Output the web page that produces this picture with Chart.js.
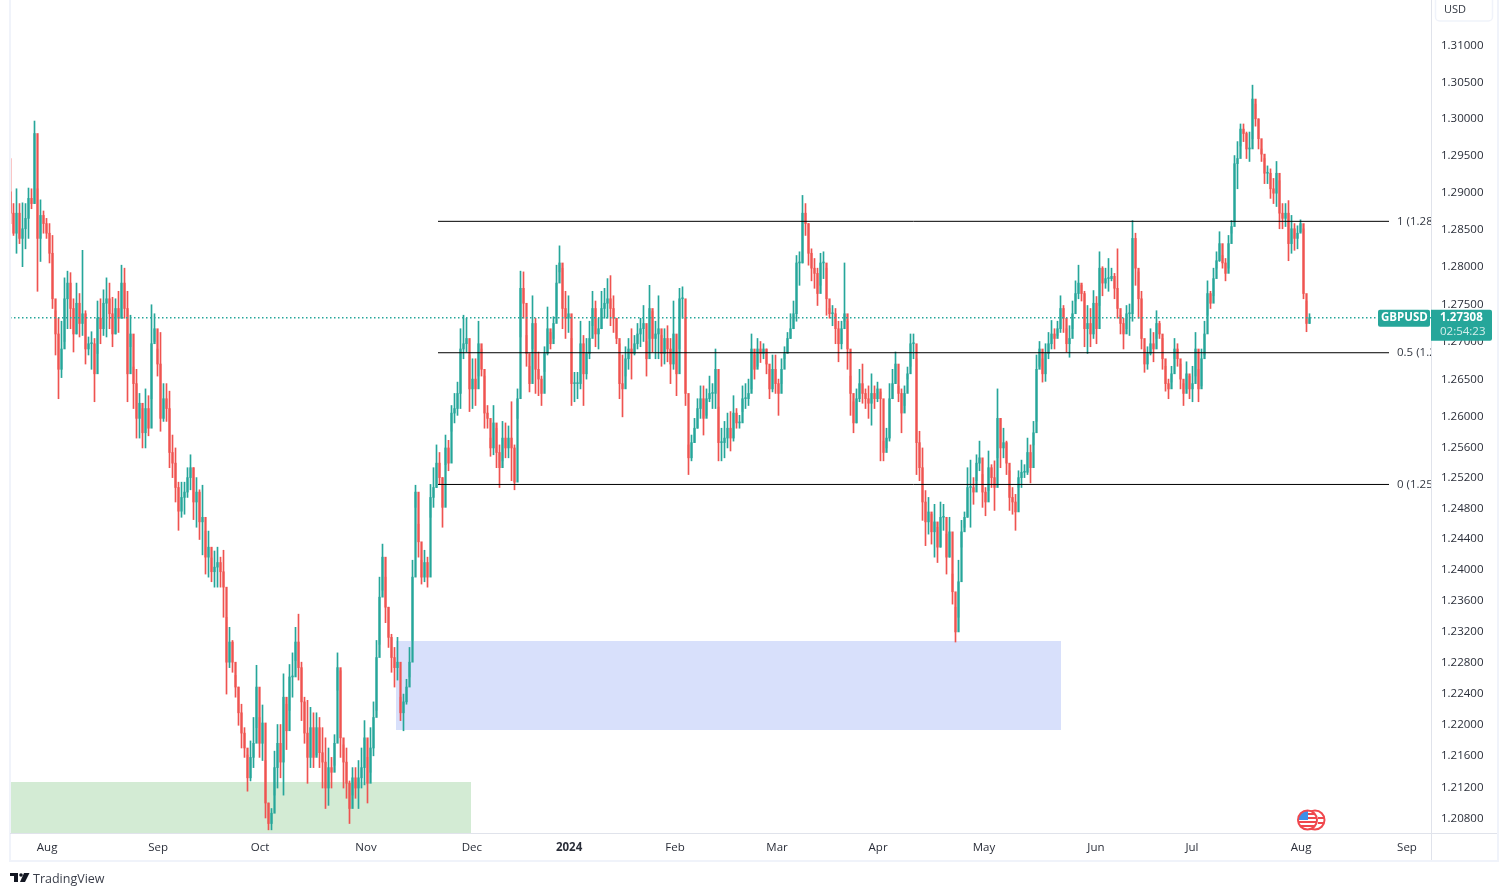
<!DOCTYPE html>
<html>
<head>
<meta charset="utf-8">
<title>GBPUSD</title>
<style>
html, body { margin: 0; padding: 0; background: #fff; }
canvas { display: block; }
</style>
<script src="https://cdn.jsdelivr.net/npm/chart.js@4"></script>
</head>
<body>
<canvas id="myChart" width="1507" height="896"></canvas>
<script>
// candles, one row = ten candles
var highs = [
1.2945,1.2884,1.2904,1.2884,1.2885,1.2884,1.2905,1.2904,1.2996,1.2904,
1.2889,1.2874,1.2864,1.2857,1.2841,1.2740,1.2730,1.2726,1.2784,1.2793,
1.2791,1.2756,1.2777,1.2763,1.2821,1.2740,1.2705,1.2712,1.2703,1.2753,
1.2756,1.2768,1.2784,1.2777,1.2758,1.2756,1.2766,1.2801,1.2797,1.2766,
1.2734,1.2665,1.2662,1.2630,1.2610,1.2636,1.2627,1.2748,1.2736,1.2689,
1.2711,1.2643,1.2643,1.2633,1.2575,1.2558,1.2513,1.2513,1.2513,1.2532,
1.2549,1.2532,1.2519,1.2503,1.2509,1.2449,1.2449,1.2414,1.2423,1.2428,
1.2415,1.2424,1.2337,1.2324,1.2307,1.2262,1.2247,1.2225,1.2195,1.2160,
1.2178,1.2208,1.2275,1.2208,1.2224,1.2153,1.2099,1.2092,1.2165,1.2199,
1.2199,1.2264,1.2225,1.2276,1.2291,1.2324,1.2341,1.2279,1.2234,1.2230,
1.2221,1.2214,1.2214,1.2208,1.2195,1.2182,1.2169,1.2157,1.2186,1.2291,
1.2268,1.2173,1.2169,1.2127,1.2144,1.2144,1.2153,1.2169,1.2204,1.2157,
1.2195,1.2228,1.2307,1.2389,1.2432,1.2389,1.2350,1.2315,1.2298,1.2311,
1.2234,1.2238,1.2257,1.2298,1.2411,1.2509,1.2458,1.2411,1.2424,1.2415,
1.2510,1.2532,1.2562,1.2552,1.2519,1.2575,1.2568,1.2614,1.2630,1.2645,
1.2716,1.2734,1.2730,1.2681,1.2676,1.2676,1.2726,1.2689,1.2653,1.2614,
1.2571,1.2614,1.2584,1.2562,1.2593,1.2591,1.2587,1.2619,1.2562,1.2636,
1.2793,1.2792,1.2707,1.2666,1.2760,1.2730,1.2685,1.2653,1.2692,1.2745,
1.2711,1.2732,1.2801,1.2827,1.2797,1.2766,1.2760,1.2703,1.2658,1.2658,
1.2726,1.2707,1.2703,1.2726,1.2766,1.2753,1.2730,1.2766,1.2770,1.2783,
1.2787,1.2760,1.2730,1.2696,1.2681,1.2692,1.2703,1.2716,1.2707,1.2723,
1.2730,1.2747,1.2699,1.2774,1.2739,1.2726,1.2760,1.2707,1.2716,1.2720,
1.2703,1.2753,1.2685,1.2770,1.2772,1.2730,1.2562,1.2575,1.2597,1.2623,
1.2640,1.2640,1.2636,1.2653,1.2643,1.2689,1.2612,1.2584,1.2593,1.2604,
1.2606,1.2627,1.2610,1.2601,1.2640,1.2643,1.2649,1.2709,1.2681,1.2703,
1.2699,1.2696,1.2689,1.2662,1.2681,1.2681,1.2649,1.2676,1.2692,1.2711,
1.2736,1.2753,1.2814,1.2819,1.2895,1.2884,1.2857,1.2823,1.2810,1.2797,
1.2817,1.2819,1.2797,1.2743,1.2747,1.2743,1.2726,1.2726,1.2804,1.2726,
1.2653,1.2619,1.2636,1.2662,1.2669,1.2636,1.2640,1.2656,1.2640,1.2645,
1.2632,1.2567,1.2584,1.2643,1.2662,1.2685,1.2640,1.2636,1.2640,1.2665,
1.2709,1.2709,1.2676,1.2580,1.2558,1.2502,1.2493,1.2471,1.2484,1.2454,
1.2487,1.2484,1.2445,1.2467,1.2393,1.2350,1.2411,1.2463,1.2474,1.2532,
1.2542,1.2519,1.2549,1.2567,1.2523,1.2506,1.2554,1.2536,1.2541,1.2636,
1.2597,1.2584,1.2567,1.2528,1.2506,1.2497,1.2528,1.2542,1.2536,1.2571,
1.2562,1.2593,1.2681,1.2699,1.2676,1.2696,1.2711,1.2727,1.2716,1.2726,
1.2760,1.2747,1.2716,1.2720,1.2753,1.2780,1.2801,1.2774,1.2766,1.2747,
1.2743,1.2767,1.2759,1.2819,1.2799,1.2797,1.2810,1.2797,1.2790,1.2823,
1.2734,1.2730,1.2747,1.2749,1.2861,1.2844,1.2792,1.2766,1.2689,1.2692,
1.2716,1.2711,1.2740,1.2726,1.2703,1.2666,1.2649,1.2666,1.2703,1.2696,
1.2669,1.2643,1.2672,1.2653,1.2666,1.2711,1.2662,1.2689,1.2726,1.2780,
1.2766,1.2797,1.2819,1.2846,1.2814,1.2810,1.2841,1.2861,1.2949,1.2968,
1.2992,1.2992,1.2981,1.2981,1.3045,1.3019,1.2999,1.2958,1.2945,1.2935,
1.2931,1.2918,1.2941,1.2915,1.2884,1.2884,1.2888,1.2868,1.2857,1.2854,
1.2862,1.2850,1.2753,1.2736
];
var lows = [
1.2857,1.2841,1.2817,1.2830,1.2799,1.2823,1.2837,1.2877,1.2884,1.2766,
1.2806,1.2844,1.2837,1.2804,1.2743,1.2681,1.2623,1.2651,1.2699,1.2716,
1.2716,1.2685,1.2709,1.2705,1.2707,1.2669,1.2681,1.2662,1.2619,1.2683,
1.2696,1.2707,1.2705,1.2716,1.2692,1.2709,1.2711,1.2730,1.2730,1.2619,
1.2692,1.2610,1.2571,1.2571,1.2558,1.2558,1.2574,1.2623,1.2699,1.2653,
1.2580,1.2593,1.2593,1.2532,1.2519,1.2487,1.2450,1.2467,1.2471,1.2493,
1.2503,1.2464,1.2454,1.2438,1.2418,1.2393,1.2389,1.2383,1.2376,1.2376,
1.2376,1.2337,1.2238,1.2272,1.2266,1.2234,1.2198,1.2169,1.2157,1.2114,
1.2127,1.2144,1.2195,1.2157,1.2153,1.2080,1.2065,1.2065,1.2109,1.2118,
1.2131,1.2109,1.2167,1.2217,1.2234,1.2281,1.2256,1.2204,1.2175,1.2124,
1.2144,1.2144,1.2160,1.2144,1.2118,1.2092,1.2096,1.2118,1.2147,1.2243,
1.2157,1.2118,1.2105,1.2073,1.2109,1.2105,1.2092,1.2118,1.2122,1.2099,
1.2138,1.2159,1.2217,1.2302,1.2372,1.2330,1.2298,1.2266,1.2247,1.2256,
1.2204,1.2191,1.2225,1.2260,1.2307,1.2480,1.2415,1.2380,1.2383,1.2376,
1.2467,1.2480,1.2506,1.2510,1.2454,1.2536,1.2528,1.2580,1.2591,1.2601,
1.2610,1.2676,1.2685,1.2606,1.2610,1.2614,1.2653,1.2653,1.2584,1.2584,
1.2547,1.2549,1.2532,1.2506,1.2541,1.2545,1.2545,1.2515,1.2503,1.2597,
1.2705,1.2730,1.2666,1.2632,1.2689,1.2630,1.2627,1.2614,1.2659,1.2681,
1.2689,1.2703,1.2734,1.2792,1.2716,1.2703,1.2711,1.2614,1.2619,1.2623,
1.2636,1.2614,1.2649,1.2676,1.2720,1.2692,1.2689,1.2716,1.2730,1.2730,
1.2720,1.2711,1.2696,1.2623,1.2599,1.2653,1.2662,1.2649,1.2681,1.2689,
1.2692,1.2699,1.2653,1.2703,1.2685,1.2676,1.2676,1.2666,1.2669,1.2672,
1.2643,1.2662,1.2627,1.2689,1.2730,1.2614,1.2523,1.2541,1.2565,1.2584,
1.2597,1.2575,1.2601,1.2619,1.2610,1.2610,1.2541,1.2541,1.2545,1.2558,
1.2554,1.2567,1.2584,1.2584,1.2606,1.2610,1.2614,1.2636,1.2649,1.2666,
1.2671,1.2676,1.2656,1.2623,1.2632,1.2630,1.2601,1.2643,1.2676,1.2685,
1.2703,1.2716,1.2726,1.2774,1.2804,1.2841,1.2801,1.2780,1.2770,1.2747,
1.2774,1.2783,1.2734,1.2730,1.2720,1.2696,1.2672,1.2689,1.2726,1.2662,
1.2601,1.2578,1.2591,1.2619,1.2617,1.2610,1.2597,1.2588,1.2610,1.2619,
1.2541,1.2541,1.2558,1.2567,1.2623,1.2643,1.2619,1.2578,1.2614,1.2649,
1.2666,1.2676,1.2523,1.2515,1.2463,1.2430,1.2445,1.2432,1.2415,1.2408,
1.2428,1.2450,1.2393,1.2415,1.2354,1.2305,1.2337,1.2428,1.2454,1.2467,
1.2454,1.2484,1.2515,1.2528,1.2480,1.2469,1.2502,1.2506,1.2476,1.2545,
1.2532,1.2545,1.2523,1.2476,1.2471,1.2450,1.2506,1.2506,1.2519,1.2523,
1.2512,1.2562,1.2593,1.2666,1.2645,1.2646,1.2676,1.2689,1.2689,1.2707,
1.2711,1.2711,1.2685,1.2678,1.2716,1.2753,1.2756,1.2753,1.2692,1.2683,
1.2692,1.2703,1.2696,1.2747,1.2760,1.2770,1.2766,1.2780,1.2756,1.2730,
1.2709,1.2689,1.2716,1.2707,1.2726,1.2774,1.2730,1.2689,1.2658,1.2662,
1.2681,1.2672,1.2703,1.2703,1.2662,1.2633,1.2623,1.2645,1.2676,1.2666,
1.2636,1.2614,1.2636,1.2623,1.2619,1.2653,1.2619,1.2640,1.2681,1.2734,
1.2743,1.2760,1.2797,1.2806,1.2797,1.2780,1.2797,1.2844,1.2861,1.2904,
1.2962,1.2968,1.2945,1.2941,1.2972,1.2989,1.2958,1.2941,1.2911,1.2911,
1.2891,1.2884,1.2880,1.2850,1.2850,1.2853,1.2807,1.2817,1.2821,1.2823,
1.2846,1.2756,1.2712,1.2723
];
var closes = [
1.2871,1.2844,1.2871,1.2837,1.2850,1.2864,1.2891,1.2884,1.2979,1.2837,
1.2868,1.2857,1.2844,1.2817,1.2756,1.2709,1.2662,1.2689,1.2756,1.2777,
1.2743,1.2709,1.2750,1.2723,1.2736,1.2689,1.2696,1.2696,1.2656,1.2730,
1.2716,1.2750,1.2756,1.2736,1.2709,1.2743,1.2730,1.2777,1.2743,1.2656,
1.2709,1.2643,1.2597,1.2617,1.2578,1.2610,1.2584,1.2696,1.2716,1.2669,
1.2597,1.2623,1.2610,1.2552,1.2538,1.2506,1.2475,1.2493,1.2500,1.2519,
1.2532,1.2487,1.2500,1.2461,1.2467,1.2415,1.2428,1.2396,1.2402,1.2408,
1.2396,1.2376,1.2279,1.2305,1.2279,1.2247,1.2214,1.2188,1.2169,1.2131,
1.2157,1.2175,1.2247,1.2175,1.2201,1.2099,1.2073,1.2086,1.2144,1.2175,
1.2151,1.2234,1.2191,1.2260,1.2260,1.2305,1.2272,1.2228,1.2188,1.2157,
1.2195,1.2157,1.2195,1.2163,1.2151,1.2118,1.2144,1.2138,1.2175,1.2272,
1.2182,1.2151,1.2124,1.2092,1.2131,1.2118,1.2131,1.2144,1.2182,1.2124,
1.2169,1.2208,1.2285,1.2363,1.2415,1.2350,1.2311,1.2285,1.2272,1.2279,
1.2214,1.2228,1.2247,1.2279,1.2389,1.2500,1.2435,1.2389,1.2408,1.2389,
1.2493,1.2506,1.2538,1.2519,1.2480,1.2558,1.2538,1.2604,1.2610,1.2630,
1.2689,1.2696,1.2703,1.2636,1.2649,1.2636,1.2696,1.2662,1.2604,1.2597,
1.2558,1.2591,1.2552,1.2532,1.2571,1.2558,1.2571,1.2558,1.2513,1.2623,
1.2770,1.2750,1.2683,1.2643,1.2723,1.2662,1.2649,1.2630,1.2683,1.2716,
1.2696,1.2723,1.2777,1.2804,1.2743,1.2730,1.2736,1.2643,1.2643,1.2643,
1.2696,1.2656,1.2683,1.2703,1.2743,1.2709,1.2716,1.2743,1.2750,1.2756,
1.2743,1.2730,1.2703,1.2643,1.2636,1.2676,1.2689,1.2683,1.2696,1.2709,
1.2716,1.2723,1.2676,1.2743,1.2703,1.2709,1.2716,1.2683,1.2703,1.2689,
1.2669,1.2709,1.2656,1.2756,1.2756,1.2630,1.2545,1.2565,1.2584,1.2610,
1.2623,1.2597,1.2623,1.2630,1.2630,1.2662,1.2565,1.2565,1.2571,1.2584,
1.2571,1.2604,1.2591,1.2591,1.2623,1.2623,1.2630,1.2689,1.2662,1.2689,
1.2683,1.2689,1.2669,1.2636,1.2662,1.2643,1.2630,1.2662,1.2683,1.2703,
1.2716,1.2736,1.2804,1.2804,1.2871,1.2857,1.2817,1.2797,1.2790,1.2763,
1.2804,1.2804,1.2756,1.2736,1.2736,1.2716,1.2696,1.2716,1.2736,1.2689,
1.2630,1.2591,1.2623,1.2643,1.2630,1.2623,1.2617,1.2630,1.2623,1.2636,
1.2623,1.2552,1.2571,1.2623,1.2643,1.2669,1.2630,1.2604,1.2630,1.2656,
1.2696,1.2696,1.2565,1.2532,1.2487,1.2461,1.2474,1.2448,1.2461,1.2428,
1.2467,1.2467,1.2415,1.2448,1.2370,1.2318,1.2383,1.2448,1.2467,1.2506,
1.2506,1.2500,1.2538,1.2545,1.2500,1.2487,1.2532,1.2519,1.2506,1.2597,
1.2558,1.2565,1.2538,1.2493,1.2487,1.2474,1.2519,1.2526,1.2526,1.2552,
1.2532,1.2578,1.2662,1.2689,1.2656,1.2683,1.2696,1.2709,1.2703,1.2716,
1.2743,1.2730,1.2696,1.2703,1.2736,1.2763,1.2777,1.2763,1.2716,1.2723,
1.2709,1.2750,1.2716,1.2797,1.2777,1.2783,1.2783,1.2786,1.2770,1.2743,
1.2723,1.2709,1.2736,1.2736,1.2837,1.2797,1.2756,1.2703,1.2669,1.2683,
1.2696,1.2689,1.2723,1.2709,1.2676,1.2643,1.2636,1.2656,1.2689,1.2676,
1.2649,1.2630,1.2656,1.2636,1.2643,1.2689,1.2636,1.2676,1.2709,1.2763,
1.2750,1.2783,1.2807,1.2830,1.2804,1.2790,1.2830,1.2853,1.2938,1.2945,
1.2985,1.2979,1.2958,1.2958,1.3026,1.2999,1.2972,1.2951,1.2925,1.2925,
1.2904,1.2898,1.2925,1.2871,1.2864,1.2871,1.2830,1.2850,1.2837,1.2844,
1.2857,1.2763,1.2723,1.27308
];
var firstOpen = 1.2900;

var priceTicks = [1.31, 1.305, 1.30, 1.295, 1.29, 1.285, 1.28, 1.275, 1.27, 1.265, 1.26, 1.256, 1.252, 1.248, 1.244, 1.24, 1.236, 1.232, 1.228, 1.224, 1.22, 1.216, 1.212, 1.208];
var monthLabels = ["Aug", "Sep", "Oct", "Nov", "Dec", "2024", "Feb", "Mar", "Apr", "May", "Jun", "Jul", "Aug", "Sep"];
var monthCandles = [12.2, 49.2, 83.2, 118.5, 153.8, 186.2, 221.5, 255.5, 289.2, 324.5, 361.8, 393.8, 430.2, 465.5];

var fibLevels = [1.2860, 1.2684, 1.2510];
var fibNames = ["1 (1.28604)", "0.5 (1.26837)", "0 (1.25099)"];
var fibRange = [142.5, 459.5];

var lastPrice = 1.27308;
var priceMin = 1.2061, priceMax = 1.3162;
var candleMin = -0.1667, candleMax = 473.5;

var greenZone = { from: candleMin, to: 153.5, top: 1.21256, bottom: priceMin };
var blueZone = { from: 128.5, to: 350.2, top: 1.23063, bottom: 1.21919 };

var UP = "#26a69a", DOWN = "#ef5350";

var opens = closes.map(function (c, i) { return i == 0 ? firstOpen : closes[i - 1]; });
var candleColors = closes.map(function (c, i) { return c >= opens[i] ? UP : DOWN; });

function zone(z, color) {
    return {
        type: "line",
        data: [{ x: z.from, y: z.top }, { x: z.to, y: z.top }],
        borderWidth: 0,
        pointRadius: 0,
        backgroundColor: color,
        fill: { value: z.bottom },
        order: 10
    };
}

function hline(y, from, to, color, width, dash) {
    return {
        type: "line",
        data: [{ x: from, y: y }, { x: to, y: y }],
        borderColor: color,
        borderWidth: width,
        borderDash: dash || [],
        pointRadius: 0,
        fill: false,
        order: 2
    };
}

var datasets = [
    zone(greenZone, "#d3ebd4"),
    zone(blueZone, "#d8e0fb"),
    {
        data: closes.map(function (c, i) { return { x: i, y: [lows[i], highs[i]] }; }),
        backgroundColor: candleColors,
        barThickness: 1,
        grouped: false,
        order: 5
    },
    {
        data: closes.map(function (c, i) { return { x: i, y: [opens[i], c] }; }),
        backgroundColor: candleColors,
        barThickness: 1.6,
        minBarLength: 1,
        grouped: false,
        order: 4
    }
];
fibLevels.forEach(function (f) {
    datasets.push(hline(f, fibRange[0], fibRange[1], "#000000", 1));
});
datasets.push(hline(lastPrice, candleMin, candleMax, UP, 1.5, [1.5, 2.5]));

// bits of TradingView chrome around the plot
var chrome = {
    id: "chrome",
    afterDraw: function (chart) {
        var c = chart.ctx, y = chart.scales.y;
        var font = '"Open Sans", sans-serif';
        c.save();

        c.fillStyle = "#f0f3fa";
        c.fillRect(9, 0, 2, 862);
        c.fillRect(1497, 0, 2, 862);
        c.fillRect(9, 860, 1490, 2);
        c.fillStyle = "#e0e3eb";
        c.fillRect(1431, 0, 1, 860);
        c.fillRect(10, 833, 1487, 1);

        // fib names run under the price scale
        c.save();
        c.beginPath();
        c.rect(1390, 0, 41, 860);
        c.clip();
        c.font = "11.5px " + font;
        c.fillStyle = "#333842";
        c.textBaseline = "middle";
        fibLevels.forEach(function (f, i) {
            c.fillText(fibNames[i], 1397, y.getPixelForValue(f));
        });
        c.restore();

        // USD button
        c.fillStyle = "#fff";
        c.strokeStyle = "#f0f3fa";
        c.lineWidth = 1.5;
        c.beginPath();
        c.roundRect(1435.5, -6, 57, 27, 4);
        c.fill();
        c.stroke();
        c.fillStyle = "#333842";
        c.font = "11px " + font;
        c.textBaseline = "middle";
        c.fillText("USD", 1444, 10);

        // last price tags
        var py = y.getPixelForValue(lastPrice);
        c.fillStyle = UP;
        c.beginPath();
        c.roundRect(1378, py - 8, 52, 17, 2);
        c.fill();
        c.beginPath();
        c.roundRect(1431, py - 8, 61, 31, [0, 2, 2, 0]);
        c.fill();
        c.fillStyle = "#fff";
        c.font = "bold 11.5px " + font;
        c.fillText("GBPUSD", 1381, py + 0.5);
        c.fillText("1.27308", 1440, py + 0.5);
        c.fillStyle = "#d4eeeb";
        c.font = "11.5px " + font;
        c.fillText("02:54:23", 1440, py + 14.5);

        // US flag marker
        c.fillStyle = "#fff";
        c.strokeStyle = "#f0484e";
        c.lineWidth = 2;
        c.beginPath();
        c.arc(1315, 820, 9.5, 0, Math.PI * 2);
        c.fill();
        c.stroke();
        c.fillStyle = "#f0484e";
        c.fillRect(1318, 817, 6, 2);
        c.fillRect(1318, 822, 5, 2);
        c.beginPath();
        c.arc(1307.5, 820, 10, 0, Math.PI * 2);
        c.fillStyle = "#fff";
        c.fill();
        c.save();
        c.clip();
        c.fillStyle = "#f0484e";
        c.fillRect(1297, 821, 22, 2);
        c.fillRect(1297, 825, 22, 2);
        c.fillRect(1308, 813, 12, 2);
        c.fillRect(1308, 817, 12, 2);
        c.fillStyle = "#3d8fe8";
        c.fillRect(1299, 811, 9, 9);
        c.restore();
        c.beginPath();
        c.arc(1307.5, 820, 9.5, 0, Math.PI * 2);
        c.stroke();

        // footer logo
        c.fillStyle = "#131722";
        c.fillRect(10, 873, 8, 3);
        c.fillRect(14, 873, 4, 9);
        c.beginPath();
        c.arc(21, 875, 1.8, 0, Math.PI * 2);
        c.fill();
        c.beginPath();
        c.moveTo(24, 873);
        c.lineTo(29.5, 873);
        c.lineTo(25, 882);
        c.lineTo(20, 882);
        c.closePath();
        c.fill();
        c.fillStyle = "#3a3e4a";
        c.font = "12.5px " + font;
        c.textBaseline = "middle";
        c.fillText("TradingView", 33, 879);

        c.restore();
    }
};

new Chart("myChart", {
    type: "bar",
    data: { datasets: datasets },
    plugins: [chrome],
    options: {
        responsive: false,
        animation: false,
        events: [],
        layout: { padding: { left: 10, right: 10, top: 0, bottom: 36 } },
        plugins: { legend: { display: false }, tooltip: { enabled: false }, title: { display: false } },
        scales: {
            x: {
                type: "linear",
                offset: false,
                min: candleMin,
                max: candleMax,
                grid: { display: false, drawTicks: false },
                border: { display: false },
                afterBuildTicks: function (s) {
                    s.ticks = monthCandles.map(function (v) { return { value: v }; });
                },
                afterFit: function (s) { s.height = 27; s.paddingLeft = 0; s.paddingRight = 0; },
                ticks: {
                    autoSkip: false,
                    maxRotation: 0,
                    padding: 8,
                    color: "#2a2e39",
                    font: function (ctx) {
                        return { family: '"Open Sans", sans-serif', size: 11.5, weight: ctx.index == 5 ? "bold" : "normal" };
                    },
                    callback: function (v, i) { return monthLabels[i]; }
                }
            },
            y: {
                type: "logarithmic",
                position: "right",
                min: priceMin,
                max: priceMax,
                grid: { display: false, drawTicks: false },
                border: { display: false },
                afterBuildTicks: function (s) {
                    s.ticks = priceTicks.map(function (v) { return { value: v }; });
                },
                afterFit: function (s) { s.width = 66; s.paddingTop = 0; s.paddingBottom = 0; },
                ticks: {
                    autoSkip: false,
                    padding: 10,
                    labelOffset: 1,
                    color: "#2a2e39",
                    font: { family: '"Open Sans", sans-serif', size: 11.5 },
                    callback: function (v) { return Number(v).toFixed(5); }
                }
            }
        }
    }
});
</script>
</body>
</html>
